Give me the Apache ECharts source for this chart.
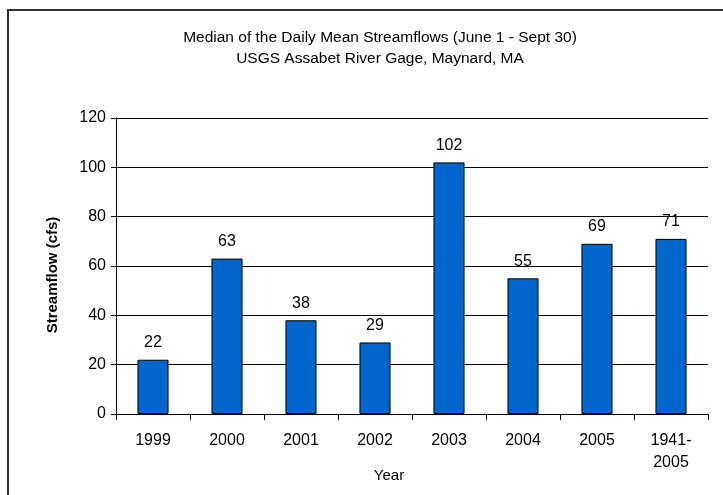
<!DOCTYPE html>
<html>
<head>
<meta charset="utf-8">
<script src="https://cdn.jsdelivr.net/npm/echarts@6/dist/echarts.min.js"></script>
<style>
html,body{margin:0;padding:0;background:#fff;}
#chart{width:723px;height:495px;}
</style>
</head>
<body>
<div id="chart"></div>
<script>
const categories = ['1999', '2000', '2001', '2002', '2003', '2004', '2005', '1941-\n2005'];
const streamflow = [22, 63, 38, 29, 102, 55, 69, 71];
const yTicks = [0, 20, 40, 60, 80, 100, 120];
const titleLines = ['Median of the Daily Mean Streamflows (June 1 - Sept 30)', 'USGS Assabet River Gage, Maynard, MA'];

const font = "'Liberation Sans', Arial, sans-serif";
const chart = echarts.init(document.getElementById('chart'), null, {renderer: 'canvas'});
chart.setOption({
  animation: false,
  backgroundColor: '#fff',
  title: {
    text: titleLines.join('\n'),
    left: 375,
    top: 22,
    textAlign: 'center',
    textStyle: {fontFamily: font, fontSize: 15.5, fontWeight: 'normal', color: '#000', lineHeight: 21}
  },
  graphic: [{
    type: 'rect',
    shape: {x: 8, y: 10, width: 730, height: 500},
    style: {fill: 'none', stroke: '#333', lineWidth: 2},
    silent: true
  }],
  grid: {left: 116, right: 15, top: 118, bottom: 81, containLabel: false, outerBoundsMode: 'none'},
  xAxis: {
    type: 'category',
    data: categories,
    name: 'Year',
    nameLocation: 'middle',
    nameGap: 54,
    nameMoveOverlap: false,
    nameTextStyle: {fontFamily: font, fontSize: 15, color: '#000', padding: [0, 46, 0, 0]},
    axisLine: {lineStyle: {color: '#000', width: 1}},
    axisTick: {show: true, length: 6, lineStyle: {color: '#000'}},
    axisLabel: {fontFamily: font, fontSize: 16, color: '#000', margin: 16, lineHeight: 22},
    splitLine: {show: false}
  },
  yAxis: {
    type: 'value',
    min: yTicks[0],
    max: yTicks[yTicks.length - 1],
    interval: 20,
    name: 'Streamflow (cfs)',
    nameLocation: 'middle',
    nameGap: 56,
    nameTextStyle: {fontFamily: font, fontSize: 15, fontWeight: 'bold', color: '#000', padding: [0, 18, 0, 0]},
    axisLine: {show: true, lineStyle: {color: '#000', width: 1}},
    axisTick: {show: true, length: 5, lineStyle: {color: '#000'}},
    axisLabel: {fontFamily: font, fontSize: 16, color: '#000', margin: 10},
    splitLine: {show: true, lineStyle: {color: '#000', width: 1}}
  },
  series: [{
    type: 'bar',
    data: streamflow,
    barWidth: '42%',
    itemStyle: {color: '#0066CC', borderColor: '#000', borderWidth: 1},
    label: {show: true, position: 'top', distance: 9, fontFamily: font, fontSize: 16, color: '#000'}
  }]
});
</script>
</body>
</html>
